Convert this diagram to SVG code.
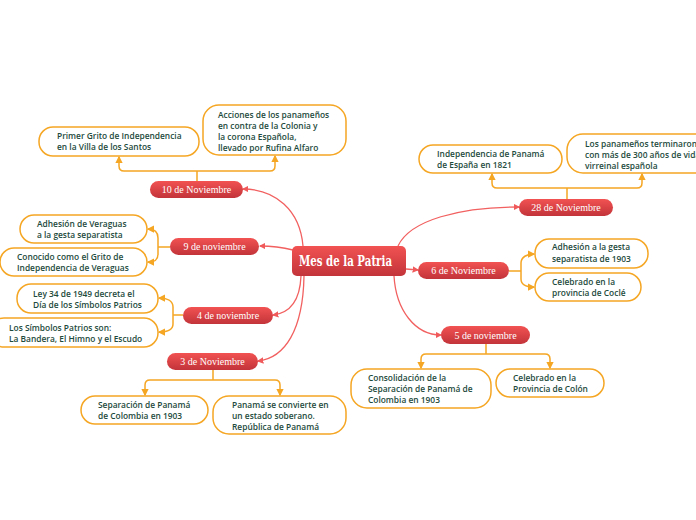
<svg xmlns="http://www.w3.org/2000/svg" width="696" height="520" viewBox="0 0 696 520">
<defs>
<linearGradient id="rg" x1="0" y1="0" x2="0" y2="1">
<stop offset="0" stop-color="#f25252"/>
<stop offset="1" stop-color="#c2343a"/>
</linearGradient>
<marker id="oa" viewBox="0 0 6 6" refX="5" refY="3" markerWidth="5" markerHeight="5" orient="auto">
<path d="M0,0 L6,3 L0,6 z" fill="#f5a623"/>
</marker>
<marker id="ra" viewBox="0 0 6 6" refX="5" refY="3" markerWidth="5" markerHeight="5" orient="auto">
<path d="M0,0 L6,3 L0,6 z" fill="#f05a5a"/>
</marker>
</defs>
<style>
.rc{fill:none;stroke:#f26060;stroke-width:1.3}
.oc{fill:none;stroke:#f5a623;stroke-width:1.5}
.leaf{fill:#fff;stroke:#f5a623;stroke-width:1.5}
.pill{fill:url(#rg)}
.bt{font-family:"Liberation Serif",serif;font-size:10px;fill:#fff;text-anchor:middle}
.rt{font-family:"DejaVu Serif","Liberation Serif",serif;font-weight:bold;font-size:14px;fill:#fff}
.lt{font-family:"Open Sans","Noto Sans",sans-serif;font-weight:600;font-size:8.4px;fill:#1d4a3c}
</style>
<rect width="696" height="520" fill="#fff"/>
<g id="connectors">
<path class="rc" d="M303,246 C300,210 275,189 243,189" marker-end="url(#ra)"/>
<path class="rc" d="M293,250 C285,248 275,246 260,246" marker-end="url(#ra)"/>
<path class="rc" d="M398,246 C410,220 460,207 519,207" marker-end="url(#ra)"/>
<path class="rc" d="M406,269 L418,270" marker-end="url(#ra)"/>
<path class="rc" d="M301,276 C300,300 290,313 273,315" marker-end="url(#ra)"/>
<path class="rc" d="M304,276 C303,330 285,358 258,361" marker-end="url(#ra)"/>
<path class="rc" d="M394,276 C396,310 415,335 441,335" marker-end="url(#ra)"/>
<path class="oc" d="M197,181 V171"/>
<path class="oc" d="M197,171 H124 Q119,171 119,166 V157" marker-end="url(#oa)"/>
<path class="oc" d="M197,171 H270 Q275,171 275,166 V156" marker-end="url(#oa)"/>
<path class="oc" d="M567,199 V188"/>
<path class="oc" d="M567,188 H497 Q492,188 492,183 V174" marker-end="url(#oa)"/>
<path class="oc" d="M567,188 H637 Q642,188 642,183 V174" marker-end="url(#oa)"/>
<path class="oc" d="M170,247 H158"/>
<path class="oc" d="M158,247 V238 C158,232 155,229 148,229" marker-end="url(#oa)"/>
<path class="oc" d="M158,247 V254 C158,260 155,262 148,262" marker-end="url(#oa)"/>
<path class="oc" d="M183,315 H173"/>
<path class="oc" d="M173,315 V307 C173,301 167,298 159,298" marker-end="url(#oa)"/>
<path class="oc" d="M173,315 V324 C173,330 167,332 159,332" marker-end="url(#oa)"/>
<path class="oc" d="M509,271 H521"/>
<path class="oc" d="M521,271 V263 C521,257 527,254 534,254" marker-end="url(#oa)"/>
<path class="oc" d="M521,271 V279 C521,285 527,287 534,287" marker-end="url(#oa)"/>
<path class="oc" d="M486,344 V354"/>
<path class="oc" d="M486,354 H426 Q421,354 421,359 V368" marker-end="url(#oa)"/>
<path class="oc" d="M486,354 H545 Q550,354 550,359 V368" marker-end="url(#oa)"/>
<path class="oc" d="M213,370 V380"/>
<path class="oc" d="M213,380 H150 Q145,380 145,385 V395" marker-end="url(#oa)"/>
<path class="oc" d="M213,380 H275 Q280,380 280,385 V395" marker-end="url(#oa)"/>
</g>
<g id="root">
<rect class="pill" x="292" y="246" width="114" height="30" rx="5"/>
<text class="rt" x="299" y="266" textLength="93" lengthAdjust="spacingAndGlyphs">Mes de la Patria</text>
</g>
<g id="b10">
<rect class="pill" x="150" y="181" width="93" height="17" rx="8.5"/>
<text class="bt" x="196.5" y="193">10 de Noviembre</text>
</g>
<g id="b28">
<rect class="pill" x="519" y="199" width="94" height="17" rx="8.5"/>
<text class="bt" x="566" y="211">28 de Noviembre</text>
</g>
<g id="b9">
<rect class="pill" x="170" y="238" width="89" height="17" rx="8.5"/>
<text class="bt" x="214.5" y="250">9 de noviembre</text>
</g>
<g id="b6">
<rect class="pill" x="418" y="262" width="91" height="17" rx="8.5"/>
<text class="bt" x="463.5" y="274">6 de Noviembre</text>
</g>
<g id="b4">
<rect class="pill" x="183" y="307" width="90" height="17" rx="8.5"/>
<text class="bt" x="228" y="319">4 de noviembre</text>
</g>
<g id="b3">
<rect class="pill" x="167" y="353" width="91" height="17" rx="8.5"/>
<text class="bt" x="212.5" y="365">3 de Noviembre</text>
</g>
<g id="b5">
<rect class="pill" x="441" y="326" width="89" height="18" rx="9"/>
<text class="bt" x="485.5" y="338.5">5 de noviembre</text>
</g>
<g id="l10a">
<rect class="leaf" x="39" y="127" width="160" height="29" rx="14"/>
<text class="lt" x="57" y="139">Primer Grito de Independencia</text>
<text class="lt" x="57" y="150">en la Villa de los Santos</text>
</g>
<g id="l10b">
<rect class="leaf" x="203" y="105" width="143" height="50" rx="16"/>
<text class="lt" x="218" y="118">Acciones de los panameños</text>
<text class="lt" x="218" y="129">en contra de la Colonia y</text>
<text class="lt" x="218" y="140">la corona Española,</text>
<text class="lt" x="218" y="151">llevado por Rufina Alfaro</text>
</g>
<g id="l28a">
<rect class="leaf" x="419" y="145" width="143" height="28" rx="14"/>
<text class="lt" x="437" y="157">Independencia de Panamá</text>
<text class="lt" x="437" y="168">de España en 1821</text>
</g>
<g id="l28b">
<rect class="leaf" x="567" y="134" width="150" height="39" rx="16"/>
<text class="lt" x="585" y="147">Los panameños terminaron</text>
<text class="lt" x="585" y="158">con más de 300 años de vida</text>
<text class="lt" x="585" y="169">virreinal española</text>
</g>
<g id="l9a">
<rect class="leaf" x="20" y="215" width="127" height="28" rx="14"/>
<text class="lt" x="37" y="227">Adhesión de Veraguas</text>
<text class="lt" x="37" y="238">a la gesta separatista</text>
</g>
<g id="l9b">
<rect class="leaf" x="0" y="248" width="147" height="28" rx="14"/>
<text class="lt" x="17" y="260">Conocido como el Grito de</text>
<text class="lt" x="17" y="271">Independencia de Veraguas</text>
</g>
<g id="l4a">
<rect class="leaf" x="17" y="284" width="141" height="29" rx="14"/>
<text class="lt" x="33" y="297">Ley 34 de 1949 decreta el</text>
<text class="lt" x="33" y="308">Día de los Símbolos Patrios</text>
</g>
<g id="l4b">
<rect class="leaf" x="-10" y="318" width="168" height="29" rx="14"/>
<text class="lt" x="9" y="330.5">Los Símbolos Patrios son:</text>
<text class="lt" x="9" y="341.5">La Bandera, El Himno y el Escudo</text>
</g>
<g id="l6a">
<rect class="leaf" x="535" y="239" width="113" height="29" rx="14"/>
<text class="lt" x="552" y="250">Adhesión  a la gesta</text>
<text class="lt" x="552" y="261.5">separatista de 1903</text>
</g>
<g id="l6b">
<rect class="leaf" x="535" y="273" width="106" height="28" rx="14"/>
<text class="lt" x="552" y="284.5">Celebrado en la</text>
<text class="lt" x="552" y="295.5">provincia de Coclé</text>
</g>
<g id="l5a">
<rect class="leaf" x="351" y="369" width="140" height="39" rx="16"/>
<text class="lt" x="368" y="381">Consolidación de la</text>
<text class="lt" x="368" y="392">Separación de Panamá de</text>
<text class="lt" x="368" y="403">Colombia en 1903</text>
</g>
<g id="l5b">
<rect class="leaf" x="496" y="369" width="108" height="28" rx="14"/>
<text class="lt" x="513" y="381">Celebrado en la</text>
<text class="lt" x="513" y="392">Provincia de Colón</text>
</g>
<g id="l3a">
<rect class="leaf" x="81" y="396" width="127" height="28" rx="14"/>
<text class="lt" x="98" y="407.5">Separación de Panamá</text>
<text class="lt" x="98" y="418.5">de Colombia en 1903</text>
</g>
<g id="l3b">
<rect class="leaf" x="213" y="396" width="133" height="38" rx="16"/>
<text class="lt" x="232" y="407.5">Panamá se convierte en</text>
<text class="lt" x="232" y="418.5">un estado soberano.</text>
<text class="lt" x="232" y="429.5">República de Panamá</text>
</g>
</svg>
